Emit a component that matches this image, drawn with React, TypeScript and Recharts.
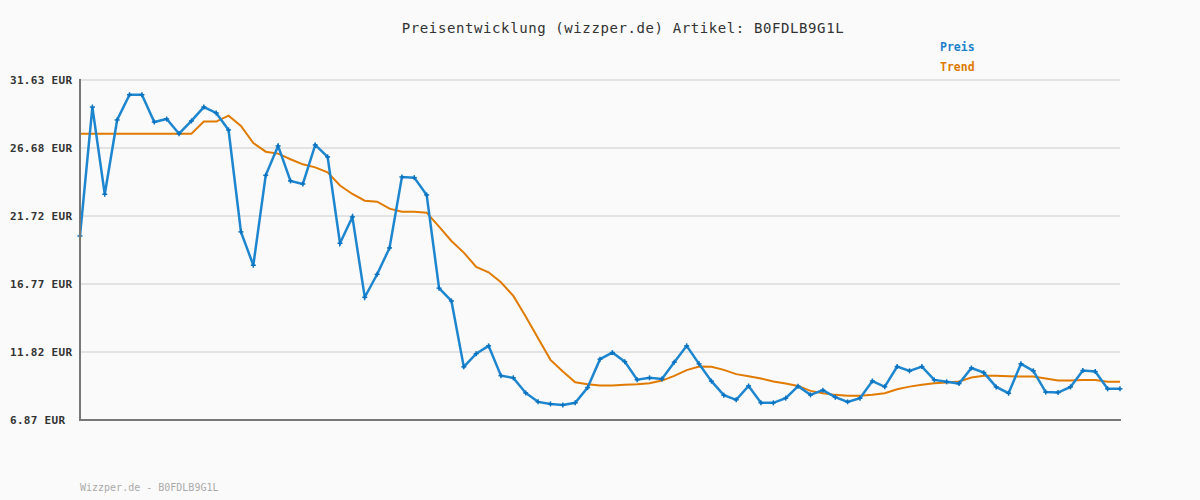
import React from "react";
import { LineChart, Line, XAxis, YAxis, CartesianGrid } from "recharts";

const preis: number[] = [
  20.27, 29.66, 23.31, 28.72, 30.56, 30.56, 28.57, 28.79, 27.72, 28.65,
  29.66, 29.23, 27.99, 20.57, 18.14, 24.69, 26.83, 24.28, 24.06, 26.9,
  26.03, 19.74, 21.66, 15.81, 17.48, 19.4, 24.57, 24.52, 23.26, 16.47,
  15.54, 10.74, 11.7, 12.27, 10.1, 9.94, 8.84, 8.19, 8.04, 7.97,
  8.12, 9.23, 11.3, 11.78, 11.12, 9.8, 9.94, 9.86, 11.08, 12.27,
  10.96, 9.7, 8.68, 8.34, 9.35, 8.12, 8.12, 8.46, 9.33, 8.7,
  9.04, 8.53, 8.19, 8.46, 9.71, 9.29, 10.76, 10.45, 10.76, 9.79,
  9.65, 9.52, 10.66, 10.32, 9.28, 8.82, 10.96, 10.45, 8.9, 8.87,
  9.28, 10.47, 10.4, 9.14, 9.14,
];

const trend: number[] = [
  27.72, 27.72, 27.72, 27.72, 27.72, 27.72, 27.72, 27.72, 27.72, 27.72,
  28.6, 28.6, 29.03, 28.28, 27.04, 26.41, 26.27, 25.86, 25.49, 25.27,
  24.91, 23.95, 23.33, 22.84, 22.77, 22.26, 22.04, 22.04, 21.97, 20.95,
  19.91, 19.06, 18.02, 17.63, 16.9, 15.91, 14.4, 12.83, 11.25, 10.4,
  9.62, 9.48, 9.38, 9.38, 9.44, 9.47, 9.55, 9.74, 10.08, 10.5,
  10.76, 10.74, 10.52, 10.21, 10.06, 9.89, 9.67, 9.52, 9.35, 8.99,
  8.82, 8.7, 8.63, 8.63, 8.71, 8.82, 9.11, 9.3, 9.43, 9.55,
  9.6, 9.67, 9.96, 10.1, 10.1, 10.06, 10.03, 10.03, 9.89, 9.74,
  9.74, 9.79, 9.79, 9.65, 9.65,
];

const yTicks: number[] = [6.87, 11.82, 16.77, 21.72, 26.68, 31.63];

const title = "Preisentwicklung (wizzper.de) Artikel: B0FDLB9G1L";
const footer = "Wizzper.de - B0FDLB9G1L";
const legendItems = [
  { label: "Preis", color: "#1a7fcc" },
  { label: "Trend", color: "#de7a00" },
];

const data = preis.map((p, i) => ({ i, preis: p, trend: trend[i] }));

const MONO = "'DejaVu Sans Mono', 'Liberation Mono', monospace";
const BLUE = "#1e86cf";
const ORANGE = "#e07b00";

const PlusDot = (props: any) => {
  const { cx, cy } = props;
  if (cx == null || cy == null) return null;
  return (
    <g>
      <line x1={cx - 2.5} y1={cy} x2={cx + 2.5} y2={cy} stroke="#0a72c0" strokeWidth={1.5} />
      <line x1={cx} y1={cy - 2.5} x2={cx} y2={cy + 2.5} stroke="#0a72c0" strokeWidth={1.5} />
    </g>
  );
};

const LeftTick = (props: any) => {
  const { y, payload } = props;
  return (
    <text
      x={10}
      y={y}
      dy={4}
      textAnchor="start"
      fill="#333"
      fontFamily={MONO}
      fontSize={11}
      fontWeight="bold"
      letterSpacing={0.3}
    >
      {Number(payload.value).toFixed(2) + " EUR"}
    </text>
  );
};

export default function App() {
  return (
    <div
      style={{
        position: "absolute",
        left: 0,
        top: 0,
        width: 1200,
        height: 500,
        background: "#fafafa",
      }}
    >
      <LineChart
        width={1200}
        height={500}
        data={data}
        margin={{ top: 80, right: 80, bottom: 80, left: 0 }}
      >
        <CartesianGrid vertical={false} stroke="#e3e3e3" strokeWidth={2} />
        <XAxis dataKey="i" hide />
        <YAxis
          width={80}
          domain={[6.87, 31.63]}
          ticks={yTicks}
          type="number"
          allowDataOverflow
          tickLine={false}
          tickSize={0}
          tickMargin={8}
          axisLine={false}
          tick={<LeftTick />}
        />
        <Line
          type="linear"
          dataKey="trend"
          stroke={ORANGE}
          strokeWidth={2}
          dot={false}
          isAnimationActive={false}
        />
        <Line
          type="linear"
          dataKey="preis"
          stroke={BLUE}
          strokeWidth={2.5}
          dot={<PlusDot />}
          activeDot={false}
          isAnimationActive={false}
        />
      </LineChart>
      <svg
        width={1200}
        height={500}
        style={{ position: "absolute", left: 0, top: 0, pointerEvents: "none" }}
      >
        <line x1={80} y1={79} x2={80} y2={421} stroke="#777" strokeWidth={2} />
        <line x1={79} y1={420} x2={1121} y2={420} stroke="#777" strokeWidth={2} />
        <text
          x={623}
          y={33}
          textAnchor="middle"
          fontFamily={MONO}
          fontSize={14}
          letterSpacing={0.6}
          fill="#333"
        >
          {title}
        </text>
        {legendItems.map((it, k) => (
          <text
            key={it.label}
            x={940}
            y={51 + k * 20}
            fontFamily={MONO}
            fontSize={11.5}
            fontWeight="bold"
            fill={it.color}
          >
            {it.label}
          </text>
        ))}
        <text x={80} y={491} fontFamily={MONO} fontSize={10} fill="#aaa">
          {footer}
        </text>
      </svg>
    </div>
  );
}
